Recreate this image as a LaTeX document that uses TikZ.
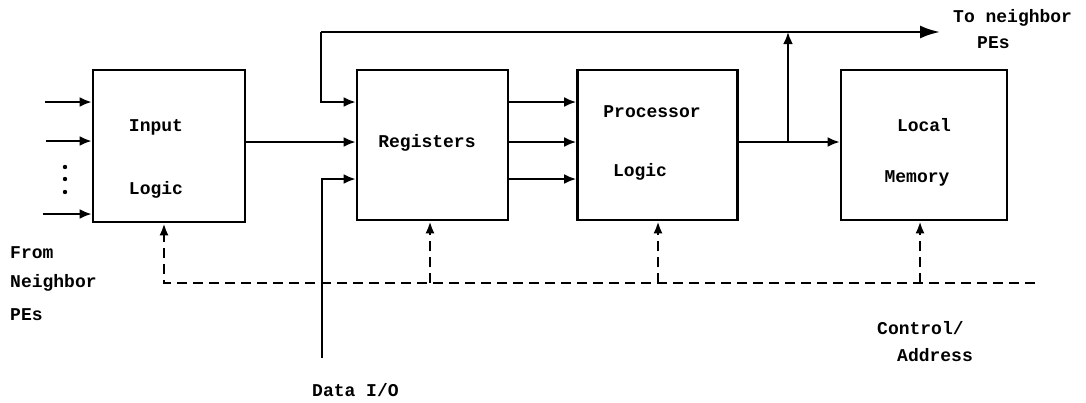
\documentclass[tikz,border=0pt]{standalone}
\usepackage{fontspec}
\setmonofont{Liberation Mono}
\usetikzlibrary{arrows.meta}
\begin{document}
\begin{tikzpicture}[x=1pt,y=-1pt,
  box/.style={draw, line width=2.6pt, inner sep=0pt},
  lbl/.style={font=\ttfamily\bfseries\fontsize{18}{21}\selectfont, inner sep=0pt},
  wire/.style={line width=2.6pt},
  arr/.style={wire, -{Latex[length=12pt,width=10pt]}},
  bigarr/.style={wire, -{Latex[length=20pt,width=13pt]}},
  ctl/.style={line width=2.6pt, dash pattern=on 10pt off 6pt},
  ctlarr/.style={ctl, -{Latex[length=12pt,width=9pt]}},
]
\useasboundingbox (0,0) rectangle (1086,402);

% boxes
\node[box, minimum width=152pt, minimum height=152pt] (inl) at (169,146) {};
\node[box, minimum width=151pt, minimum height=150pt] (reg) at (432.5,145) {};
\node[box, minimum width=160pt, minimum height=150pt] (proc) at (657.5,145) {};
\node[box, minimum width=166pt, minimum height=150pt] (mem) at (924,145) {};

% box texts
\node[lbl] (tin) at (156,127) {Input};
\node[lbl] (tlo) at (156,190) {Logic};
\node[lbl] (treg) at (427,143) {Registers};
\node[lbl] (tpr) at (652,112) {Processor};
\node[lbl] (tpl) at (640,172) {Logic};
\node[lbl] (tloc) at (924,125) {Local};
\node[lbl] (tmem) at (917,178) {Memory};

% helper rows
\coordinate (y102) at (0,102);
\coordinate (y142) at (0,142);
\coordinate (y179) at (0,179);

% left inputs
\coordinate (a1) at (45,102);
\coordinate (a2) at (46,141);
\coordinate (a3) at (43,214);
\draw[arr] (a1) -- (a1 -| inl.west);
\draw[arr] (a2) -- (a2 -| inl.west);
\draw[arr] (a3) -- (a3 -| inl.west);
\fill (65,167) circle (2.2pt) (65,179) circle (2.2pt) (65,192) circle (2.2pt);

% input logic -> registers
\draw[arr] (inl.east |- y142) -- (reg.west |- y142);

% registers -> processor
\draw[arr] (reg.east |- y102) -- (proc.west |- y102);
\draw[arr] (reg.east |- y142) -- (proc.west |- y142);
\draw[arr] (reg.east |- y179) -- (proc.west |- y179);

% processor -> memory, branch up
\coordinate (br) at (788,142);
\draw[arr] (proc.east |- y142) -- (mem.west |- y142);
\coordinate (tl) at (321,32);
\coordinate (tr) at (940,32);
\draw[arr] (br) -- (br |- tl);
\draw[bigarr] (tl) -- (tr);
\draw[arr] (tl) -- (tl |- y102) -- (reg.west |- y102);

% data I/O
\coordinate (dio) at (322,358);
\draw[arr] (dio) -- (dio |- y179) -- (reg.west |- y179);

% control / address bus
\coordinate (c0) at (164,283);
\coordinate (c1) at (1035,283);
\draw[ctlarr] (c1) -- (c0) -- (c0 |- inl.south);
\coordinate (k1) at (430,283);
\coordinate (k2) at (658,283);
\coordinate (k3) at (920,283);
\draw[ctlarr] (k1) -- (k1 |- reg.south);
\draw[ctlarr] (k2) -- (k2 |- proc.south);
\draw[ctlarr] (k3) -- (k3 |- mem.south);

% labels
\node[lbl, anchor=west] (lf1) at (10,253) {From};
\node[lbl, anchor=west] (lf2) at (10,283) {Neighbor};
\node[lbl, anchor=west] (lf3) at (10,315) {PEs};
\node[lbl, anchor=west] (lt1) at (953,18) {To neighbor};
\node[lbl, anchor=west] (lt2) at (977,43) {PEs};
\node[lbl, anchor=west] (ld) at (312,390) {Data I/O};
\node[lbl, anchor=west] (lc1) at (877,328) {Control/};
\node[lbl, anchor=west] (lc2) at (897,355) {Address};
\end{tikzpicture}
\end{document}
